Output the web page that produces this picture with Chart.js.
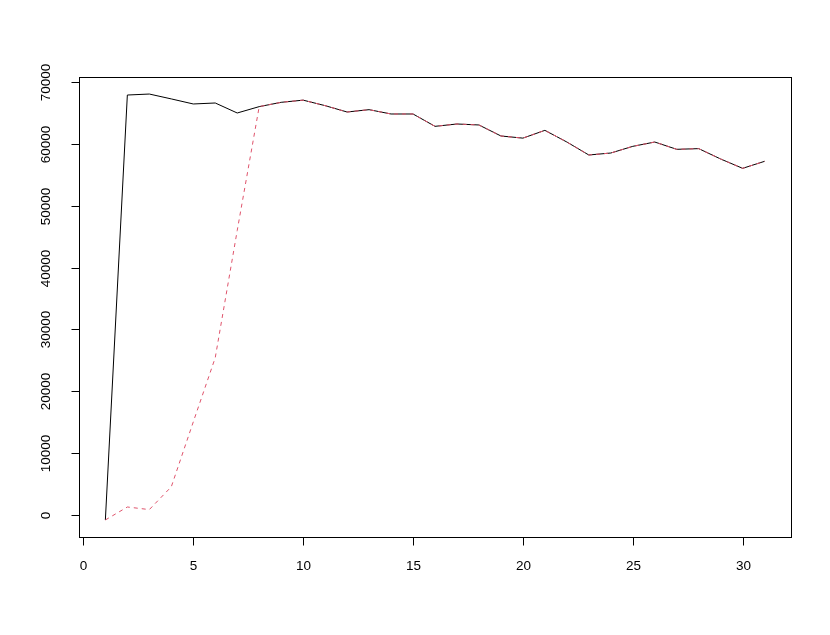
<!DOCTYPE html>
<html>
<head>
<meta charset="utf-8">
<script src="https://cdn.jsdelivr.net/npm/chart.js@4"></script>
<style>
html,body{margin:0;padding:0;background:#fff;}
#wrap{width:830px;height:635px;position:relative;}
</style>
</head>
<body>
<div id="wrap"><canvas id="c" width="830" height="635"></canvas></div>
<script>
// ---- data ----
const xValues = [1,2,3,4,5,6,7,8,9,10,11,12,13,14,15,16,17,18,19,20,21,22,23,24,25,26,27,28,29,30,31];
const seriesSolid = [-870,67930,68090,67300,66480,66640,65020,66050,66750,67100,66210,65180,65560,64860,64860,62860,63240,63080,61300,60950,62210,60320,58220,58540,59620,60320,59140,59250,57570,56060,57200];
const seriesDashed = [-870,1230,810,4500,15000,25400,46000,66050,66750,67100,66210,65180,65560,64860,64860,62860,63240,63080,61300,60950,62210,60320,58220,58540,59620,60320,59140,59250,57570,56060,57200];
const xTicks = [0,5,10,15,20,25,30];
const yTicks = [0,10000,20000,30000,40000,50000,60000,70000];

// R-style 4% axis extension
const allY = seriesSolid.concat(seriesDashed);
const yLo = Math.min(...allY), yHi = Math.max(...allY);
const yPad = 0.04 * (yHi - yLo);
const xLo = Math.min(...xValues), xHi = Math.max(...xValues);
const xPad = 0.04 * (xHi - xLo);

const FONT = '13.5px "Liberation Sans", Arial, sans-serif';

const rAxes = {
  id: 'rAxes',
  afterDraw(chart) {
    const ctx = chart.ctx;
    const a = chart.chartArea;
    const xs = chart.scales.x, ys = chart.scales.y;
    ctx.save();
    ctx.strokeStyle = '#000';
    ctx.lineWidth = 1;
    ctx.strokeRect(Math.round(a.left) + 0.5, Math.round(a.top) + 0.5,
                   Math.round(a.right - a.left), Math.round(a.bottom - a.top));
    ctx.fillStyle = '#000';
    ctx.font = FONT;
    const xb = Math.round(a.bottom) + 0.5;
    ctx.beginPath();
    ctx.moveTo(Math.round(xs.getPixelForValue(xTicks[0])) + 0.5, xb);
    ctx.lineTo(Math.round(xs.getPixelForValue(xTicks[xTicks.length-1])) + 0.5, xb);
    ctx.stroke();
    ctx.textAlign = 'center';
    ctx.textBaseline = 'middle';
    xTicks.forEach(t => {
      const px = Math.round(xs.getPixelForValue(t)) + 0.5;
      ctx.beginPath();
      ctx.moveTo(px, xb);
      ctx.lineTo(px, xb + 8);
      ctx.stroke();
      ctx.fillText(String(t), px, a.bottom + 29);
    });
    const yl = Math.round(a.left) + 0.5;
    ctx.beginPath();
    ctx.moveTo(yl, Math.round(ys.getPixelForValue(yTicks[0])) + 0.5);
    ctx.lineTo(yl, Math.round(ys.getPixelForValue(yTicks[yTicks.length-1])) + 0.5);
    ctx.stroke();
    yTicks.forEach(t => {
      const py = Math.round(ys.getPixelForValue(t)) + 0.5;
      ctx.beginPath();
      ctx.moveTo(yl, py);
      ctx.lineTo(yl - 8, py);
      ctx.stroke();
      ctx.save();
      ctx.translate(a.left - 33, py);
      ctx.rotate(-Math.PI / 2);
      ctx.fillText(String(t), 0, 0);
      ctx.restore();
    });
    ctx.restore();
  }
};

new Chart(document.getElementById('c'), {
  type: 'line',
  data: {
    datasets: [
      {
        label: 'dashed',
        data: xValues.map((x, i) => ({x: x, y: seriesDashed[i]})),
        borderColor: '#DF536B',
        borderWidth: 1,
        borderDash: [4, 4],
        pointRadius: 0,
        fill: false,
        tension: 0,
        order: 0
      },
      {
        label: 'solid',
        data: xValues.map((x, i) => ({x: x, y: seriesSolid[i]})),
        borderColor: '#000000',
        borderWidth: 1,
        pointRadius: 0,
        fill: false,
        tension: 0,
        order: 1
      }
    ]
  },
  options: {
    responsive: false,
    animation: false,
    devicePixelRatio: 1,
    layout: { padding: { left: 79, top: 77, right: 39, bottom: 98 } },
    plugins: { legend: { display: false }, tooltip: { enabled: false } },
    scales: {
      x: { type: 'linear', display: false, min: xLo - xPad, max: xHi + xPad },
      y: { type: 'linear', display: false, min: yLo - yPad, max: yHi + yPad }
    }
  },
  plugins: [rAxes]
});
</script>
</body>
</html>
